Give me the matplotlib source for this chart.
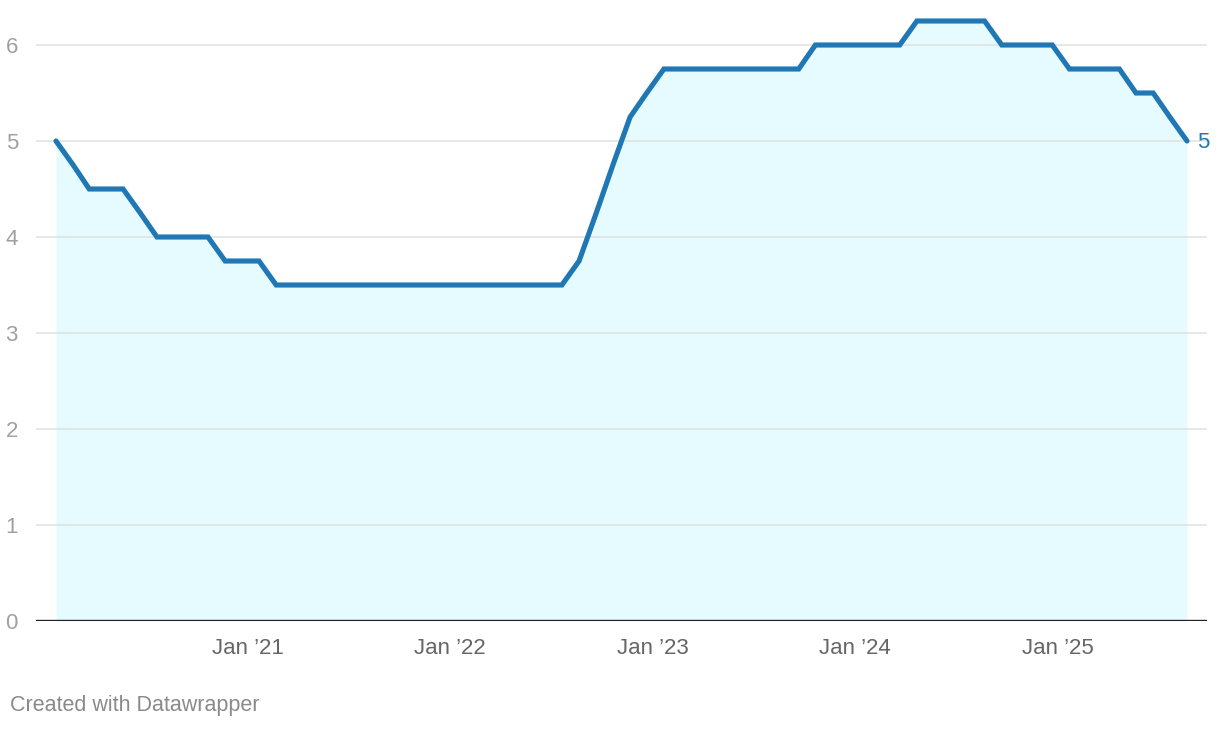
import matplotlib
matplotlib.use("Agg")
import matplotlib.pyplot as plt
import pandas as pd

plt.rcParams['font.family'] = ['Liberation Sans', 'DejaVu Sans']

# Monthly values, Jan 2020 .. Aug 2025
start_month = "2020-01"
values = [
    5.0, 4.75, 4.5, 4.5, 4.5, 4.25, 4.0, 4.0, 4.0, 4.0, 3.75, 3.75,      # 2020
    3.75, 3.5, 3.5, 3.5, 3.5, 3.5, 3.5, 3.5, 3.5, 3.5, 3.5, 3.5,         # 2021
    3.5, 3.5, 3.5, 3.5, 3.5, 3.5, 3.5, 3.75, 4.25, 4.75, 5.25, 5.5,      # 2022
    5.75, 5.75, 5.75, 5.75, 5.75, 5.75, 5.75, 5.75, 5.75, 6.0, 6.0, 6.0, # 2023
    6.0, 6.0, 6.0, 6.25, 6.25, 6.25, 6.25, 6.25, 6.0, 6.0, 6.0, 6.0,     # 2024
    5.75, 5.75, 5.75, 5.75, 5.5, 5.5, 5.25, 5.0,                         # 2025
]
yticks = [0, 1, 2, 3, 4, 5, 6]
xtick_years = [2021, 2022, 2023, 2024, 2025]
xtick_labels = ["Jan \u201921", "Jan \u201922", "Jan \u201923", "Jan \u201924", "Jan \u201925"]

dates = pd.date_range(start=start_month, periods=len(values), freq="MS") + pd.Timedelta(days=20)

W, H = 1220, 730
fig = plt.figure(figsize=(W / 100, H / 100), dpi=100)
ax = fig.add_axes([36 / W, (H - 621) / H, (1207 - 36) / W, (621 - 10) / H])

ax.fill_between(dates, values, 0, color="#e6fbff", linewidth=0, zorder=1)
for y in yticks[1:]:
    ax.axhline(y, color="#dcdcdc", linewidth=1.2, alpha=0.8, zorder=2)
ax.plot(dates, values, color="#1f77b4", linewidth=3.7, solid_joinstyle="miter",
        solid_capstyle="round", zorder=3)
ax.axhline(0, color="#222222", linewidth=1.7, zorder=4)

pad = pd.Timedelta(days=36)
ax.set_xlim(dates[0] - pad, dates[-1] + pad)
ax.set_ylim(0, (621 - 10) / 96)

ax.set_yticks(yticks)
ax.set_yticklabels([str(v) for v in yticks])
ax.tick_params(axis="y", length=0, pad=13, labelsize=16, labelcolor="#a0a0a0")
ax.set_xticks([pd.Timestamp(f"{y}-01-01") for y in xtick_years])
ax.set_xticklabels(xtick_labels)
ax.tick_params(axis="x", length=0, pad=12, labelsize=16, labelcolor="#666666")

for s in ax.spines.values():
    s.set_visible(False)
ax.set_facecolor("none")

ax.annotate(f"{values[-1]:g}", xy=(dates[-1], values[-1]), xytext=(7, -1),
            textcoords="offset points", va="center", ha="left",
            fontsize=16, color="#1f77b4")

fig.text(10 / W, 1 - 706 / H, "Created with Datawrapper", fontsize=15.5,
         color="#8a8a8a", ha="left", va="center")

fig.savefig("out.png", dpi=100, facecolor="white")
